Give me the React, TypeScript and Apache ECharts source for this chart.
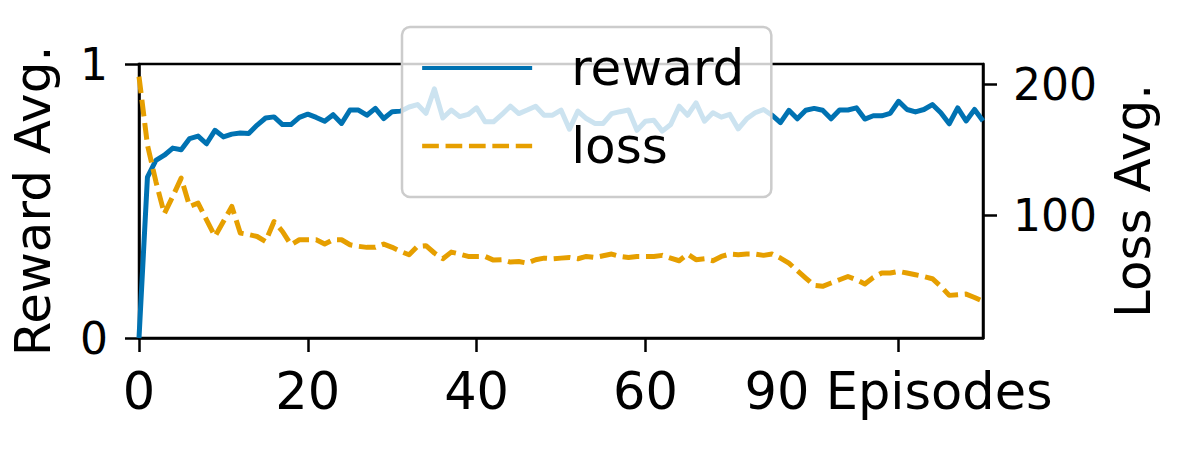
import React, { useEffect, useRef } from "react";
import * as echarts from "echarts";

const rewardValues: number[] = [
  0, 0.587, 0.648, 0.667, 0.693, 0.687, 0.728, 0.737, 0.709, 0.758,
  0.734, 0.744, 0.748, 0.746, 0.777, 0.803, 0.807, 0.779, 0.779, 0.805,
  0.817, 0.805, 0.791, 0.815, 0.783, 0.832, 0.832, 0.813, 0.838, 0.801,
  0.826, 0.828, 0.843, 0.852, 0.82, 0.909, 0.803, 0.832, 0.808, 0.816,
  0.84, 0.789, 0.789, 0.816, 0.846, 0.819, 0.832, 0.846, 0.813, 0.813,
  0.832, 0.762, 0.828, 0.801, 0.783, 0.783, 0.819, 0.826, 0.832, 0.758,
  0.791, 0.795, 0.755, 0.779, 0.846, 0.813, 0.858, 0.791, 0.822, 0.806,
  0.816, 0.763, 0.8, 0.822, 0.834, 0.813, 0.786, 0.831, 0.8, 0.831,
  0.838, 0.831, 0.8, 0.832, 0.832, 0.84, 0.799, 0.811, 0.811, 0.82,
  0.864, 0.834, 0.825, 0.834, 0.852, 0.822, 0.782, 0.84, 0.792, 0.834,
  0.792,
];

const lossValues: number[] = [
  205.9, 153.8, 125.9, 101.3, 114.5, 128.5, 106.9, 109.4, 96.7, 84.0,
  95.4, 106.9, 86.6, 85.5, 84.0, 80.2, 95.4, 87.8, 77.7, 81.5,
  81.5, 81.5, 78.2, 81.5, 81.5, 77.7, 76.5, 75.7, 75.7, 78.2,
  75.7, 72.6, 70.1, 76.5, 77.0, 71.4, 67.0, 72.1, 70.6, 68.8,
  68.8, 68.8, 66.0, 66.3, 64.5, 64.9, 63.7, 66.3, 67.5, 67.0,
  67.5, 68.0, 67.0, 68.8, 68.0, 69.3, 70.6, 68.8, 68.0, 68.8,
  68.8, 68.8, 69.6, 67.5, 65.5, 70.6, 66.3, 67.0, 65.5, 68.8,
  70.6, 70.1, 70.6, 70.6, 69.6, 70.6, 67.5, 63.7, 57.9, 52.3,
  46.7, 46.0, 48.5, 51.0, 53.5, 51.0, 47.8, 52.8, 56.1, 56.1,
  57.4, 56.1, 54.8, 53.5, 51.8, 46.0, 39.1, 39.6, 40.1, 37.5,
  34.5,
];

const xTickValues: number[] = [0, 20, 40, 60, 90];
const xTickLabels: string[] = ["0", "20", "40", "60", "90 Episodes"];
const leftTickValues: number[] = [0, 1];
const rightTickValues: number[] = [100, 200];
const seriesNames: string[] = ["reward", "loss"];
const yNames: string[] = ["Reward Avg.", "Loss Avg."];

const FONT = "DejaVu Sans";
const BLUE = "#0072B2";
const ORANGE = "#E69F00";
const LW = 5;
const DASH = [16.7, 6.7];

export default function App() {
  const ref = useRef<HTMLDivElement>(null);

  useEffect(() => {
    if (!ref.current) return;
    const chart = echarts.init(ref.current, undefined, { renderer: "svg" });

    const rewardData = rewardValues.map((v, i) => [i, v]);
    const lossData = lossValues.map((v, i) => [i, v]);

    chart.setOption({
      animation: false,
      backgroundColor: "#ffffff",
      grid: {
        left: 137,
        right: 213,
        top: 64,
        bottom: 114,
        show: true,
        borderColor: "#000000",
        borderWidth: 2.5,
        backgroundColor: "transparent",
      },
      legend: {
        orient: "vertical",
        left: 402,
        top: 27,
        padding: [12, 27, 22, 18],
        backgroundColor: "rgba(255,255,255,0.8)",
        borderColor: "#cccccc",
        borderWidth: 2.5,
        borderRadius: 8,
        itemWidth: 110,
        itemHeight: 2,
        itemGap: 20,
        z: 10,
        itemStyle: { opacity: 0, borderWidth: 0 },
        data: [
          {
            name: seriesNames[0],
            itemStyle: { opacity: 0, borderWidth: 0 },
            lineStyle: { color: BLUE, width: 4, type: "solid" },
          },
          {
            name: seriesNames[1],
            itemStyle: { opacity: 0, borderWidth: 0 },
            lineStyle: { color: ORANGE, width: 4.3, type: DASH },
          },
        ],
        textStyle: {
          fontFamily: FONT,
          fontSize: 50,
          lineHeight: 58,
          color: "#000000",
          padding: [0, 0, 0, 34],
        },
      },
      xAxis: {
        type: "value",
        min: 0,
        max: 100,
        splitLine: { show: false },
        axisLine: { show: true, onZero: false, lineStyle: { color: "#000", width: 2.5 } },
        axisTick: {
          show: true,
          length: 14,
          customValues: xTickValues,
          lineStyle: { color: "#000", width: 2.5 },
        },
        axisLabel: {
          customValues: xTickValues,
          fontFamily: FONT,
          fontSize: 51,
          color: "#000",
          margin: 28,
          formatter: (v: number) => {
            const idx = xTickValues.indexOf(v);
            return idx >= 0 ? xTickLabels[idx] : "";
          },
        },
      },
      yAxis: [
        {
          type: "value",
          min: 0,
          max: 1,
          position: "left",
          name: yNames[0],
          nameLocation: "middle",
          nameRotate: 90,
          nameGap: 81,
          nameTextStyle: { fontFamily: FONT, fontSize: 50, color: "#000" },
          splitLine: { show: false },
          axisLine: { show: true, onZero: false, lineStyle: { color: "#000", width: 2.5 } },
          axisTick: {
            show: true,
            length: 14,
            customValues: leftTickValues,
            lineStyle: { color: "#000", width: 2.5 },
          },
          axisLabel: {
            customValues: leftTickValues,
            fontFamily: FONT,
            fontSize: 44,
            color: "#000",
            margin: 31,
          },
        },
        {
          type: "value",
          min: 6.6,
          max: 215.5,
          position: "right",
          name: yNames[1],
          nameLocation: "middle",
          nameRotate: 90,
          nameGap: 125,
          nameTextStyle: { fontFamily: FONT, fontSize: 50, color: "#000" },
          splitLine: { show: false },
          axisLine: { show: true, onZero: false, lineStyle: { color: "#000", width: 2.5 } },
          axisTick: {
            show: true,
            length: 14,
            customValues: rightTickValues,
            lineStyle: { color: "#000", width: 2.5 },
          },
          axisLabel: {
            customValues: rightTickValues,
            fontFamily: FONT,
            fontSize: 44,
            color: "#000",
            margin: 30,
          },
        },
      ],
      series: [
        {
          name: seriesNames[0],
          type: "line",
          yAxisIndex: 0,
          data: rewardData,
          symbol: "none",
          z: 2,
          color: BLUE,
          emphasis: { disabled: true },
          lineStyle: { color: BLUE, width: LW, type: "solid", cap: "butt", join: "round" },
        },
        {
          name: seriesNames[1],
          type: "line",
          yAxisIndex: 1,
          data: lossData,
          symbol: "none",
          z: 3,
          color: ORANGE,
          emphasis: { disabled: true },
          lineStyle: { color: ORANGE, width: LW, type: DASH, cap: "butt", join: "round" },
        },
      ],
    });

    return () => chart.dispose();
  }, []);

  return (
    <div
      ref={ref}
      style={{ position: "absolute", left: 0, top: 0, width: 1196, height: 452 }}
    />
  );
}
